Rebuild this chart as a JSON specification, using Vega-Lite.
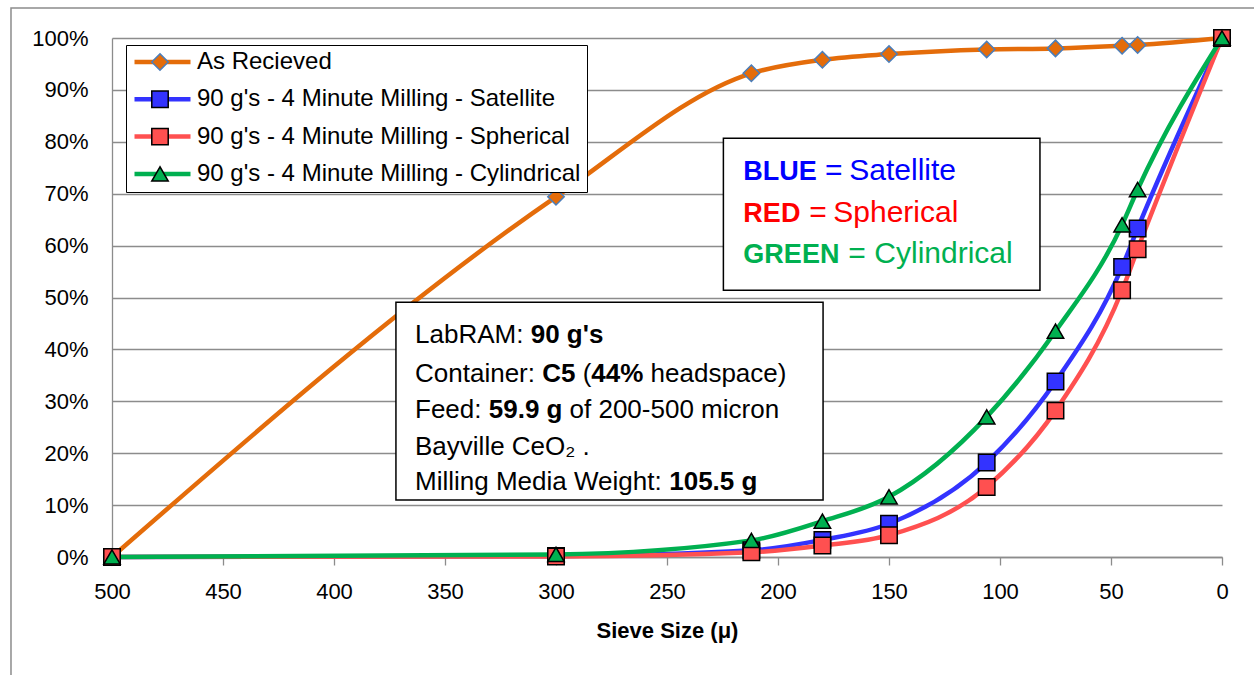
{
  "$schema": "https://vega.github.io/schema/vega-lite/v6.json",
  "width": 1110,
  "height": 519,
  "autosize": "none",
  "padding": {"left": 112, "top": 38, "right": 32, "bottom": 118},
  "background": "white",
  "config": {"view": {"stroke": null}, "font": "Liberation Sans"},
  "datasets": {
    "main": [
      {"series": "As Recieved", "size": 500, "pct": 0},
      {"series": "As Recieved", "size": 300, "pct": 0.694},
      {"series": "As Recieved", "size": 212, "pct": 0.932},
      {"series": "As Recieved", "size": 180, "pct": 0.958},
      {"series": "As Recieved", "size": 150, "pct": 0.969},
      {"series": "As Recieved", "size": 106, "pct": 0.978},
      {"series": "As Recieved", "size": 75, "pct": 0.980},
      {"series": "As Recieved", "size": 45, "pct": 0.985},
      {"series": "As Recieved", "size": 38, "pct": 0.9865},
      {"series": "As Recieved", "size": 0, "pct": 1},
      {"series": "90 g's - 4 Minute Milling - Satellite", "size": 500, "pct": 0},
      {"series": "90 g's - 4 Minute Milling - Satellite", "size": 300, "pct": 0.002},
      {"series": "90 g's - 4 Minute Milling - Satellite", "size": 212, "pct": 0.013},
      {"series": "90 g's - 4 Minute Milling - Satellite", "size": 180, "pct": 0.033},
      {"series": "90 g's - 4 Minute Milling - Satellite", "size": 150, "pct": 0.064},
      {"series": "90 g's - 4 Minute Milling - Satellite", "size": 106, "pct": 0.182},
      {"series": "90 g's - 4 Minute Milling - Satellite", "size": 75, "pct": 0.338},
      {"series": "90 g's - 4 Minute Milling - Satellite", "size": 45, "pct": 0.559},
      {"series": "90 g's - 4 Minute Milling - Satellite", "size": 38, "pct": 0.633},
      {"series": "90 g's - 4 Minute Milling - Satellite", "size": 0, "pct": 1},
      {"series": "90 g's - 4 Minute Milling - Spherical", "size": 500, "pct": 0},
      {"series": "90 g's - 4 Minute Milling - Spherical", "size": 300, "pct": 0.001},
      {"series": "90 g's - 4 Minute Milling - Spherical", "size": 212, "pct": 0.009},
      {"series": "90 g's - 4 Minute Milling - Spherical", "size": 180, "pct": 0.022},
      {"series": "90 g's - 4 Minute Milling - Spherical", "size": 150, "pct": 0.042},
      {"series": "90 g's - 4 Minute Milling - Spherical", "size": 106, "pct": 0.135},
      {"series": "90 g's - 4 Minute Milling - Spherical", "size": 75, "pct": 0.282},
      {"series": "90 g's - 4 Minute Milling - Spherical", "size": 45, "pct": 0.514},
      {"series": "90 g's - 4 Minute Milling - Spherical", "size": 38, "pct": 0.593},
      {"series": "90 g's - 4 Minute Milling - Spherical", "size": 0, "pct": 1},
      {"series": "90 g's - 4 Minute Milling - Cylindrical", "size": 500, "pct": 0},
      {"series": "90 g's - 4 Minute Milling - Cylindrical", "size": 300, "pct": 0.005},
      {"series": "90 g's - 4 Minute Milling - Cylindrical", "size": 212, "pct": 0.032},
      {"series": "90 g's - 4 Minute Milling - Cylindrical", "size": 180, "pct": 0.069},
      {"series": "90 g's - 4 Minute Milling - Cylindrical", "size": 150, "pct": 0.116},
      {"series": "90 g's - 4 Minute Milling - Cylindrical", "size": 106, "pct": 0.270},
      {"series": "90 g's - 4 Minute Milling - Cylindrical", "size": 75, "pct": 0.435},
      {"series": "90 g's - 4 Minute Milling - Cylindrical", "size": 45, "pct": 0.640},
      {"series": "90 g's - 4 Minute Milling - Cylindrical", "size": 38, "pct": 0.708},
      {"series": "90 g's - 4 Minute Milling - Cylindrical", "size": 0, "pct": 1}
    ],
    "box2_regular": [
      {"size": 363.5, "pct": 0.4118, "t": "LabRAM:"},
      {"size": 363.5, "pct": 0.3378, "t": "Container:"},
      {"size": 288.0, "pct": 0.3378, "t": "("},
      {"size": 257.4, "pct": 0.3378, "t": "headspace)"},
      {"size": 363.5, "pct": 0.2672, "t": "Feed:"},
      {"size": 293.9, "pct": 0.2672, "t": "of 200-500 micron"},
      {"size": 363.5, "pct": 0.1965, "t": "Bayville CeO₂ ."},
      {"size": 363.5, "pct": 0.1291, "t": "Milling Media Weight:"}
    ],
    "box2_bold": [
      {"size": 311.4, "pct": 0.4118, "t": "90 g's"},
      {"size": 306.2, "pct": 0.3378, "t": "C5"},
      {"size": 284.1, "pct": 0.3378, "t": "44%"},
      {"size": 330.3, "pct": 0.2672, "t": "59.9 g"},
      {"size": 249.0, "pct": 0.1291, "t": "105.5 g"}
    ]
  },
  "encoding": {
    "x": {
      "field": "size",
      "type": "quantitative",
      "scale": {"domain": [0, 500], "reverse": true, "nice": false, "zero": false},
      "axis": {
        "title": "Sieve Size (μ)",
        "values": [0, 50, 100, 150, 200, 250, 300, 350, 400, 450, 500],
        "grid": false,
        "ticks": true,
        "tickSize": 8,
        "tickColor": "#8c8c8c",
        "tickWidth": 1.3,
        "domainColor": "#8c8c8c",
        "domainWidth": 1.3,
        "labelFlush": false,
        "labelOverlap": false,
        "labelPadding": 16,
        "labelFontSize": 22,
        "labelFont": "Liberation Sans",
        "labelColor": "black",
        "titleFont": "Liberation Sans",
        "titleFontSize": 22,
        "titleFontWeight": "bold",
        "titleColor": "black",
        "titlePadding": 18
      }
    },
    "y": {
      "field": "pct",
      "type": "quantitative",
      "scale": {"domain": [0, 1], "nice": false, "zero": false},
      "axis": {
        "title": null,
        "format": ".0%",
        "values": [0, 0.1, 0.2, 0.3, 0.4, 0.5, 0.6, 0.7, 0.8, 0.9, 1],
        "grid": true,
        "gridColor": "#8c8c8c",
        "gridWidth": 1.3,
        "ticks": false,
        "domainColor": "#8c8c8c",
        "domainWidth": 1.3,
        "labelPadding": 24,
        "labelFontSize": 22,
        "labelFont": "Liberation Sans",
        "labelColor": "black"
      }
    }
  },
  "layer": [
    {
      "data": {"values": [{"size": 545.5, "size2": -40, "pct": 1.058, "pct2": -0.3}]},
      "mark": {"type": "rect", "fill": "transparent", "stroke": "#8c8c8c", "strokeWidth": 1.5},
      "encoding": {
        "x2": {"field": "size2"},
        "y2": {"field": "pct2"}
      }
    },
    {
      "data": {"name": "main"},
      "mark": {"type": "line", "interpolate": "monotone", "strokeWidth": 4.5},
      "encoding": {
        "stroke": {
          "field": "series",
          "type": "nominal",
          "sort": ["As Recieved", "90 g's - 4 Minute Milling - Satellite", "90 g's - 4 Minute Milling - Spherical", "90 g's - 4 Minute Milling - Cylindrical"],
          "scale": {"range": ["#E46C0A", "#3333FF", "#FF5050", "#00B050"]},
          "legend": {
            "orient": "none",
            "legendX": 14,
            "legendY": 7,
            "title": null,
            "symbolType": "stroke",
            "symbolSize": 3136,
            "symbolStrokeWidth": 4.5,
            "labelFontSize": 24,
            "labelFont": "Liberation Sans",
            "labelColor": "black",
            "labelOffset": 4,
            "labelLimit": 700,
            "padding": 6,
            "clipHeight": 22,
            "rowPadding": 13.3,
            "strokeColor": "black",
            "fillColor": "white",
            "zindex": 1
          }
        },
        "order": {"field": "size", "sort": "descending"}
      }
    },
    {
      "data": {"name": "main"},
      "mark": {"type": "point", "filled": true, "opacity": 1, "strokeWidth": 1.5, "size": 270},
      "encoding": {
        "color": {
          "field": "series",
          "type": "nominal",
          "scale": {
            "domain": ["As Recieved", "90 g's - 4 Minute Milling - Satellite", "90 g's - 4 Minute Milling - Spherical", "90 g's - 4 Minute Milling - Cylindrical"],
            "range": ["#E46C0A", "#3333FF", "#FF5050", "#00B050"]
          },
          "legend": {
            "orient": "none", "legendX": 30, "legendY": 7, "title": null,
            "symbolSize": 270, "symbolStrokeWidth": 1.5, "symbolStrokeColor": "black", "symbolOpacity": 1,
            "labelExpr": "''", "labelFontSize": 24, "padding": 6, "clipHeight": 22, "rowPadding": 13.3, "zindex": 2,
            "encode": {"symbols": {"update": {"stroke": [{"test": "datum.value === 'As Recieved'", "value": "#4A7EBB"}, {"value": "black"}], "strokeWidth": {"value": 1.5}}}}
          }
        },
        "shape": {
          "field": "series",
          "type": "nominal",
          "scale": {
            "domain": ["As Recieved", "90 g's - 4 Minute Milling - Satellite", "90 g's - 4 Minute Milling - Spherical", "90 g's - 4 Minute Milling - Cylindrical"],
            "range": ["diamond", "square", "square", "triangle-up"]
          },
          "legend": {
            "orient": "none", "legendX": 30, "legendY": 7, "title": null,
            "symbolSize": 270, "symbolStrokeWidth": 1.5, "symbolStrokeColor": "black", "symbolOpacity": 1,
            "labelExpr": "''", "labelFontSize": 24, "padding": 6, "clipHeight": 22, "rowPadding": 13.3, "zindex": 2,
            "encode": {"symbols": {"update": {"stroke": [{"test": "datum.value === 'As Recieved'", "value": "#4A7EBB"}, {"value": "black"}], "strokeWidth": {"value": 1.5}}}}
          }
        },
        "stroke": {
          "condition": {"test": "datum.series === 'As Recieved'", "value": "#4A7EBB"},
          "value": "black"
        }
      }
    },
    {
      "data": {"values": [{"size": 224.6, "size2": 82, "pct": 0.807, "pct2": 0.514}]},
      "mark": {"type": "rect", "fill": "white", "stroke": "black", "strokeWidth": 1.5},
      "encoding": {
        "x2": {"field": "size2"},
        "y2": {"field": "pct2"}
      }
    },
    {
      "data": {"values": [{"size": 372.1, "size2": 179.7, "pct": 0.491, "pct2": 0.11}]},
      "mark": {"type": "rect", "fill": "white", "stroke": "black", "strokeWidth": 1.5},
      "encoding": {
        "x2": {"field": "size2"},
        "y2": {"field": "pct2"}
      }
    },
    {
      "data": {"name": "box2_regular"},
      "mark": {"type": "text", "align": "left", "baseline": "alphabetic", "fontSize": 26, "font": "Liberation Sans", "color": "black"},
      "encoding": {"text": {"field": "t"}}
    },
    {
      "data": {"name": "box2_bold"},
      "mark": {"type": "text", "align": "left", "baseline": "alphabetic", "fontSize": 26, "fontWeight": "bold", "font": "Liberation Sans", "color": "black"},
      "encoding": {"text": {"field": "t"}}
    },
    {
      "data": {"values": [{"size": 215.6, "pct": 0.7264, "t": "BLUE"}]},
      "mark": {"type": "text", "align": "left", "baseline": "alphabetic", "fontSize": 27, "fontWeight": "bold", "font": "Liberation Sans", "color": "#0000FF"},
      "encoding": {"text": {"field": "t"}}
    },
    {
      "data": {"values": [{"size": 178.8, "pct": 0.7264, "t": "="}, {"size": 167.9, "pct": 0.7264, "t": "Satellite"}]},
      "mark": {"type": "text", "align": "left", "baseline": "alphabetic", "fontSize": 30, "font": "Liberation Sans", "color": "#0000FF"},
      "encoding": {"text": {"field": "t"}}
    },
    {
      "data": {"values": [{"size": 215.6, "pct": 0.646, "t": "RED"}]},
      "mark": {"type": "text", "align": "left", "baseline": "alphabetic", "fontSize": 27, "fontWeight": "bold", "font": "Liberation Sans", "color": "#FF0000"},
      "encoding": {"text": {"field": "t"}}
    },
    {
      "data": {"values": [{"size": 185.9, "pct": 0.646, "t": "="}, {"size": 175.1, "pct": 0.646, "t": "Spherical"}]},
      "mark": {"type": "text", "align": "left", "baseline": "alphabetic", "fontSize": 30, "font": "Liberation Sans", "color": "#FF0000"},
      "encoding": {"text": {"field": "t"}}
    },
    {
      "data": {"values": [{"size": 215.6, "pct": 0.566, "t": "GREEN"}]},
      "mark": {"type": "text", "align": "left", "baseline": "alphabetic", "fontSize": 27, "fontWeight": "bold", "font": "Liberation Sans", "color": "#00B050"},
      "encoding": {"text": {"field": "t"}}
    },
    {
      "data": {"values": [{"size": 168.3, "pct": 0.566, "t": "="}, {"size": 156.6, "pct": 0.566, "t": "Cylindrical"}]},
      "mark": {"type": "text", "align": "left", "baseline": "alphabetic", "fontSize": 30, "font": "Liberation Sans", "color": "#00B050"},
      "encoding": {"text": {"field": "t"}}
    }
  ]
}
